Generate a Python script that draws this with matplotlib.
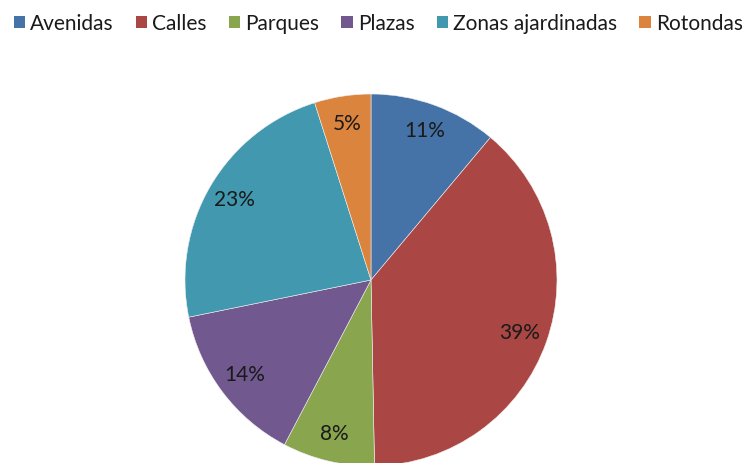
import matplotlib.pyplot as plt
from matplotlib.patches import Patch

categories = ['Avenidas', 'Calles', 'Parques', 'Plazas', 'Zonas ajardinadas', 'Rotondas']
shares = [11.1, 38.6, 8.0, 14.1, 23.3, 4.9]
colors = ['#4572A7', '#AA4643', '#89A54E', '#71588F', '#4198AF', '#DB843D']

plt.rcParams['font.family'] = ['Lato', 'DejaVu Sans']

fig = plt.figure(figsize=(7.42, 4.63), dpi=100)

# pie centre ~ (371, 280) px, radius ~186 px
W, H = 742, 463
cx, cy, r = 371, 280, 186
ax = fig.add_axes([(cx - r) / W, (H - cy - r) / H, 2 * r / W, 2 * r / H])

wedges, texts, autotexts = ax.pie(
    shares, colors=colors, startangle=90, counterclock=False,
    autopct='%.0f%%', pctdistance=0.85,
    wedgeprops=dict(edgecolor='#f0f0f0', linewidth=0.4),
    textprops=dict(fontsize=15, color='#1a1a1a'))
ax.set_xlim(-1, 1)
ax.set_ylim(-1, 1)
ax.set_aspect('equal')

handles = [Patch(facecolor=c, edgecolor='none') for c in colors]
fig.legend(handles, categories, loc='upper left', bbox_to_anchor=(0.0, 1.0),
           ncol=6, frameon=False, fontsize=15, labelcolor='#1a1a1a',
           handlelength=0.55, handleheight=0.55, handletextpad=0.25,
           columnspacing=1.05, borderaxespad=0.25)

fig.savefig('out.png', dpi=100)
